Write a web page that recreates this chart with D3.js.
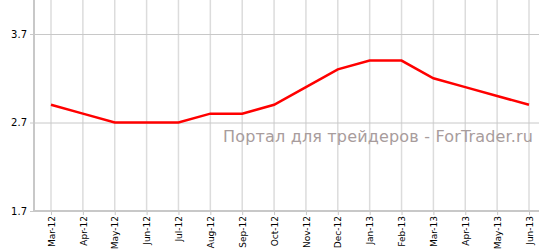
<!DOCTYPE html>
<html><head><meta charset="utf-8">
<script src="https://cdn.jsdelivr.net/npm/d3@7"></script>
<style>body{margin:0;background:#fff}svg{display:block}</style>
</head><body>
<svg id="c" width="539" height="252"></svg>
<script>
const categories = ["Mar-12","Apr-12","May-12","Jun-12","Jul-12","Aug-12","Sep-12","Oct-12","Nov-12","Dec-12","Jan-13","Feb-13","Mar-13","Apr-13","May-13","Jun-13"];
const values = [2.9,2.8,2.7,2.7,2.7,2.8,2.8,2.9,3.1,3.3,3.4,3.4,3.2,3.1,3.0,2.9];
const yTicks = [1.7,2.7,3.7];
const watermark = "Портал для трейдеров - ForTrader.ru";

(function(){
const svg = d3.select("#c");
const x = d3.scalePoint().domain(categories).range([51,529]);
const y = d3.scaleLinear().domain([1.7,3.7]).range([211,34]);
const mLeft = 34, mBottom = 211, mRight = 539, mTop = 0;

svg.append("g").selectAll("line").data(categories).join("line")
  .attr("x1",d=>x(d)).attr("x2",d=>x(d)).attr("y1",mTop).attr("y2",mBottom)
  .attr("stroke","#dcdcdc").attr("stroke-width",1.5);
svg.append("g").selectAll("line").data(yTicks).join("line")
  .attr("x1",mLeft).attr("x2",mRight).attr("y1",d=>y(d)+0.5).attr("y2",d=>y(d)+0.5)
  .attr("stroke","#c8c8c8").attr("stroke-width",1);

svg.append("text").attr("x",223).attr("y",142)
  .attr("font-family","DejaVu Sans").attr("font-size",16).attr("fill","#a89c9c")
  .attr("textLength",310).attr("lengthAdjust","spacing")
  .text(watermark);

const ya = svg.append("g").attr("transform",`translate(${mLeft},0)`)
  .call(d3.axisLeft(y).tickValues(yTicks).tickSize(4).tickPadding(3).tickFormat(d3.format(".1f")));
ya.select(".domain").remove();
ya.selectAll(".tick line").attr("stroke","#c8c8c8");
ya.selectAll("text").attr("font-family","DejaVu Sans").attr("font-size",10).attr("fill","#000");
svg.append("line").attr("x1",mLeft).attr("x2",mLeft).attr("y1",mTop).attr("y2",mBottom+1)
  .attr("stroke","#c8c8c8").attr("stroke-width",2);

const xa = svg.append("g").attr("transform",`translate(0,${mBottom})`)
  .call(d3.axisBottom(x).tickSize(4).tickPadding(3));
xa.select(".domain").remove();
xa.selectAll(".tick line").attr("stroke","#c8c8c8");
xa.selectAll("text").attr("font-family","DejaVu Sans").attr("font-size",9).attr("fill","#000")
  .attr("transform","rotate(-90)").attr("text-anchor","end").attr("dy","0.35em").attr("x",-5).attr("y",0);
svg.append("line").attr("x1",mLeft-1).attr("x2",mRight).attr("y1",mBottom).attr("y2",mBottom)
  .attr("stroke","#c8c8c8").attr("stroke-width",2);

svg.append("path").datum(values)
  .attr("d",d3.line().x((d,i)=>x(categories[i])).y(d=>y(d)))
  .attr("fill","none").attr("stroke","#ff0000").attr("stroke-width",2.5);
})();
</script>
</body></html>
